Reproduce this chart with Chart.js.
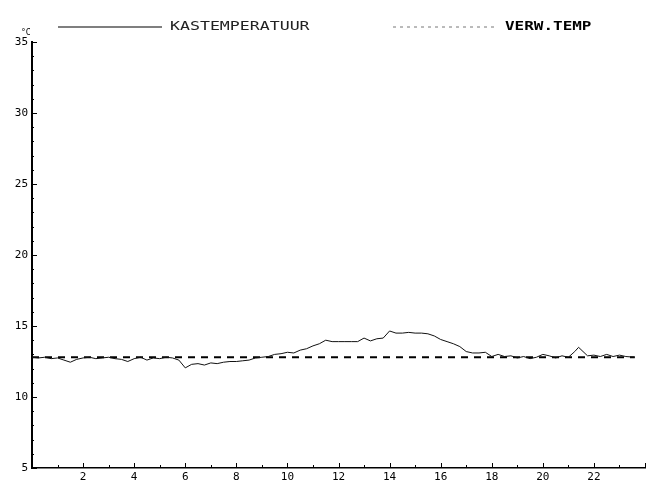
<!DOCTYPE html>
<html>
<head>
<meta charset="utf-8">
<script src="https://cdn.jsdelivr.net/npm/chart.js@4/dist/chart.umd.min.js"></script>
<style>
  html, body { margin: 0; padding: 0; background: #fff; }
  canvas { display: block; }
</style>
</head>
<body>
<canvas id="c" width="661" height="485"></canvas>
<script>
// Hour of day for each logged reading
const hours = [
  0, 0.25, 0.5, 0.75, 1, 1.25, 1.5, 1.75, 2, 2.25, 2.5, 2.75, 3, 3.25, 3.5, 3.75,
  4, 4.25, 4.5, 4.75, 5, 5.25, 5.5, 5.75, 6, 6.25, 6.5, 6.75, 7, 7.25, 7.5, 7.75,
  8, 8.25, 8.5, 8.75, 9, 9.25, 9.5, 9.75, 10, 10.25, 10.5, 10.75, 11, 11.25, 11.5, 11.75,
  12, 12.25, 12.5, 12.75, 13, 13.25, 13.5, 13.75, 14, 14.25, 14.5, 14.75, 15, 15.25, 15.5, 15.75,
  16, 16.25, 16.5, 16.75, 17, 17.25, 17.5, 17.75, 18, 18.25, 18.5, 18.75, 19, 19.25, 19.5, 19.75,
  20, 20.25, 20.5, 20.75, 21, 21.25, 21.4, 21.75, 22, 22.25, 22.5, 22.75, 23, 23.25, 23.6
];
// Cabinet temperature (°C)
const kastemperatuur = [
  12.8, 12.75, 12.8, 12.7, 12.75, 12.6, 12.45, 12.65, 12.75, 12.8, 12.7, 12.75, 12.8, 12.7, 12.65, 12.5,
  12.7, 12.8, 12.6, 12.75, 12.7, 12.8, 12.75, 12.6, 12.05, 12.3, 12.35, 12.25, 12.4, 12.35, 12.45, 12.5,
  12.5, 12.55, 12.6, 12.75, 12.8, 12.85, 13.0, 13.05, 13.15, 13.1, 13.3, 13.4, 13.6, 13.75, 14.0, 13.9,
  13.9, 13.9, 13.9, 13.9, 14.15, 13.95, 14.1, 14.15, 14.65, 14.5, 14.5, 14.55, 14.5, 14.5, 14.45, 14.3,
  14.05, 13.9, 13.75, 13.55, 13.2, 13.1, 13.1, 13.15, 12.85, 13.0, 12.85, 12.9, 12.75, 12.85, 12.7, 12.8,
  13.0, 12.9, 12.75, 12.9, 12.8, 13.2, 13.5, 12.9, 12.95, 12.85, 13.0, 12.85, 12.95, 12.85, 12.8
];
// Heating setpoint (°C)
const verwHours = [0, 23.6];
const verwTemp = [12.8, 12.8];

const xTickLabels = ['2', '4', '6', '8', '10', '12', '14', '16', '18', '20', '22'];
const yTickLabels = ['5', '10', '15', '20', '25', '30', '35'];

const MONO = "'DejaVu Sans Mono', 'Liberation Mono', monospace";

// Draws wide, plotter-like lettering by stretching the text horizontally
function wideText(ctx, text, x, y, stretch) {
  ctx.save();
  ctx.translate(x, y);
  ctx.scale(stretch, 1);
  ctx.fillText(text, 0, 0);
  ctx.restore();
}

// Inward tick marks, legend and unit label drawn in plotter style
const plotterDecor = {
  id: 'plotterDecor',
  afterDraw(chart) {
    const ctx = chart.ctx;
    const xs = chart.scales.x, ys = chart.scales.y;
    const area = chart.chartArea;
    ctx.save();
    ctx.strokeStyle = '#000';
    ctx.lineWidth = 1;
    for (let h = 0; h <= 24; h++) {
      const px = Math.round(xs.getPixelForValue(h)) + 0.5;
      const len = h % 2 === 0 ? 5 : 3;
      ctx.beginPath();
      ctx.moveTo(px, area.bottom);
      ctx.lineTo(px, area.bottom - len);
      ctx.stroke();
    }
    for (let v = 5; v <= 35; v++) {
      const py = Math.round(ys.getPixelForValue(v)) + 0.5;
      const len = v % 5 === 0 ? 5 : 2;
      ctx.beginPath();
      ctx.moveTo(area.left, py);
      ctx.lineTo(area.left + len, py);
      ctx.stroke();
    }

    // unit next to the top tick
    ctx.fillStyle = '#000';
    ctx.font = '8px ' + MONO;
    ctx.textAlign = 'left';
    ctx.textBaseline = 'middle';
    ctx.fillText('°C', 21, ys.getPixelForValue(35) - 9);

    // legend
    const ly = 27;
    ctx.lineWidth = 1.2;
    ctx.strokeStyle = '#000';
    ctx.beginPath();
    ctx.moveTo(58, ly);
    ctx.lineTo(162, ly);
    ctx.stroke();

    ctx.strokeStyle = '#777';
    ctx.lineWidth = 1;
    ctx.setLineDash([3, 4]);
    ctx.beginPath();
    ctx.moveTo(393, ly);
    ctx.lineTo(494, ly);
    ctx.stroke();
    ctx.setLineDash([]);

    ctx.font = '12px ' + MONO;
    ctx.fillStyle = '#222';
    wideText(ctx, chart.data.datasets[0].label, 170, ly, 1.38);
    ctx.fillStyle = '#000';
    ctx.font = 'bold 12px ' + MONO;
    wideText(ctx, chart.data.datasets[1].label, 505, ly, 1.33);
    ctx.restore();
  }
};

new Chart(document.getElementById('c'), {
  type: 'line',
  data: {
    datasets: [
      {
        label: 'KASTEMPERATUUR',
        data: hours.map((h, i) => ({ x: h, y: kastemperatuur[i] })),
        borderColor: '#111',
        borderWidth: 1,
        pointRadius: 0,
        tension: 0,
        fill: false
      },
      {
        label: 'VERW.TEMP',
        data: verwHours.map((h, i) => ({ x: h, y: verwTemp[i] })),
        borderColor: '#000',
        borderWidth: 2,
        borderDash: [7, 6],
        pointRadius: 0,
        fill: false
      }
    ]
  },
  options: {
    responsive: false,
    devicePixelRatio: 1,
    animation: false,
    layout: { padding: { top: 42, right: 16, left: 0, bottom: 0 } },
    plugins: { legend: { display: false }, tooltip: { enabled: false } },
    scales: {
      x: {
        type: 'linear',
        min: 0,
        max: 24,
        grid: { display: true, drawOnChartArea: false, drawTicks: false },
        border: { display: true, color: '#000', width: 1.5 },
        afterFit: s => { s.height = 17; },
        afterBuildTicks: s => {
          s.ticks = [];
          for (let h = 0; h <= 24; h += 2) s.ticks.push({ value: h });
        },
        ticks: {
          autoSkip: false,
          maxRotation: 0,
          padding: 3,
          color: '#000',
          font: { family: MONO, size: 11 },
          callback: v => (xTickLabels.includes(String(v)) ? String(v) : '')
        }
      },
      y: {
        min: 5,
        max: 35,
        grid: { display: true, drawOnChartArea: false, drawTicks: false },
        border: { display: true, color: '#000', width: 2 },
        afterFit: s => { s.width = 32; },
        afterBuildTicks: s => {
          s.ticks = yTickLabels.map(t => ({ value: Number(t) }));
        },
        ticks: {
          padding: 4,
          color: '#000',
          font: { family: MONO, size: 11 },
          callback: v => String(v)
        }
      }
    }
  },
  plugins: [plotterDecor]
});
</script>
</body>
</html>
